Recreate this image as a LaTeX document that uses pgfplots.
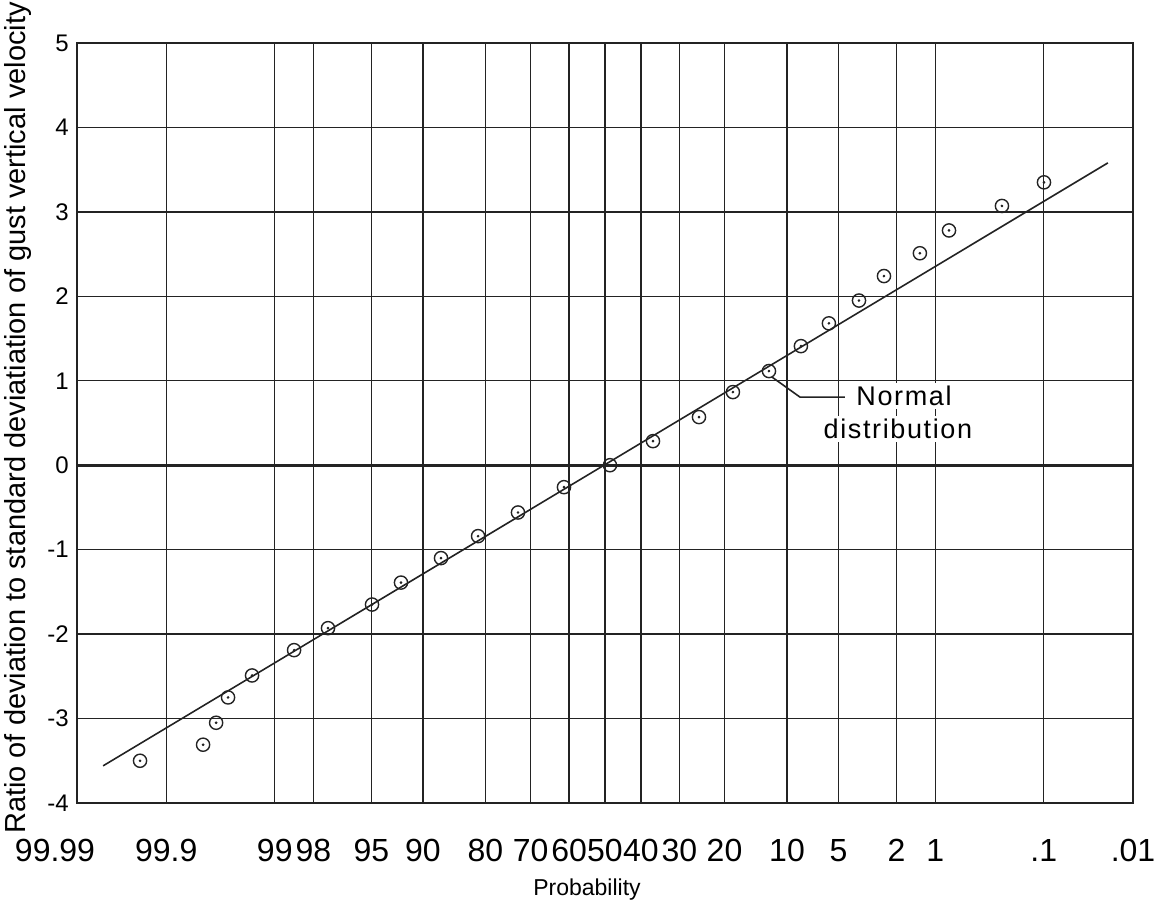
\documentclass[border=0pt]{standalone}
\usepackage{fontspec}
\setmainfont{Liberation Sans}
\usepackage{pgfplots}
\usepackage{pgfplotstable}
\pgfplotsset{compat=1.18}
\definecolor{ink}{RGB}{35,35,35}

\pgfplotstableread{
x y
-3.275 -3.50
-2.831 -3.31
-2.739 -3.05
-2.655 -2.75
-2.486 -2.49
-2.190 -2.19
-1.951 -1.93
-1.641 -1.65
-1.437 -1.39
-1.155 -1.10
-0.894 -0.84
-0.613 -0.56
-0.289 -0.26
0.035 0.00
0.338 0.285
0.662 0.57
0.901 0.866
1.155 1.115
1.380 1.41
1.577 1.68
1.789 1.95
1.965 2.24
2.218 2.51
2.423 2.78
2.796 3.07
3.092 3.35
}\pts

\pgfplotstableread{
x y
-3.535 -3.56
3.542 3.58
}\normline

\begin{document}
\begin{tikzpicture}
\begin{axis}[name=ax, scale only axis, width=528bp, height=380bp,
  xmin=-3.719, xmax=3.719, ymin=-4, ymax=5,
  xtick={-3.719,-3.090,-2.326,-2.054,-1.645,-1.282,-0.842,-0.524,-0.253,0,0.253,0.524,0.842,1.282,1.645,2.054,2.326,3.090,3.719},
  xticklabels={{\hspace*{-22bp}99.99},99.9,99,98,95,90,80,70,60,50,40,30,20,10,5,2,1,.1,.01},
  ytick={-4,-3,-2,-1,0,1,2,3,4,5},
  yticklabels={-4,-3,-2,-1,0,1,2,3,4,5},
  grid=major, grid style={ink, line width=0.65bp},
  axis line style={ink, line width=0.8bp},
  major tick length=0pt,
  xticklabel style={font=\fontsize{16bp}{16bp}\selectfont, anchor=north, inner sep=0pt, yshift=-18bp},
  yticklabel style={font=\fontsize{12bp}{12bp}\selectfont, anchor=east, inner sep=0pt, xshift=-4bp},
  extra y ticks={0}, extra y tick labels={},
  extra y tick style={grid style={ink, line width=1.5bp}},
  clip=false]
\addplot[ink, line width=0.8bp, no marks] table[x=x,y=y] {\normline};
\addplot[only marks, mark=o, mark size=3.3bp, mark options={ink, line width=0.7bp, fill=none}] table[x=x,y=y] {\pts};
\addplot[only marks, mark=*, mark size=0.45bp, mark options={ink}] table[x=x,y=y] {\pts};
\draw[ink, line width=0.8bp] (axis cs:1.176,1.044) -- (axis cs:1.373,0.807) -- (axis cs:1.69,0.807);
\node[fill=white, inner sep=1.5bp, font=\fontsize{13.5bp}{13.5bp}\selectfont\addfontfeature{LetterSpace=6}] at (axis cs:2.106,0.819) {Normal};
\node[fill=white, inner sep=1.5bp, font=\fontsize{13.5bp}{13.5bp}\selectfont\addfontfeature{LetterSpace=6}] at (axis cs:2.063,0.427) {distribution};
\end{axis}
\node[rotate=90, anchor=center, font=\fontsize{14.5bp}{14.5bp}\selectfont] at ([xshift=-29.5bp, yshift=2.5bp]ax.west) {Ratio of deviation to standard deviatiation of gust vertical velocity};
\node[anchor=base, font=\fontsize{11.5bp}{11.5bp}\selectfont] at ([xshift=-9bp, yshift=-46.5bp]ax.south) {Probability};
\pgfresetboundingbox
\path[use as bounding box] ([shift={(-38.5bp,-51bp)}]ax.south west) rectangle ([shift={(12bp,21.5bp)}]ax.north east);
\end{tikzpicture}
\end{document}
